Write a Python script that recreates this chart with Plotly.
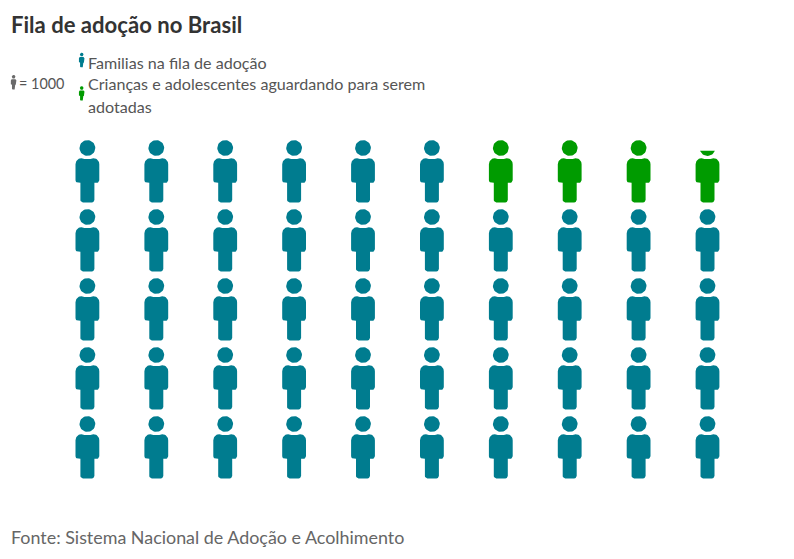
import math
import plotly.graph_objects as go

# Data (thousands; one icon = 1000)
title = "Fila de adoção no Brasil"
source = "Fonte: Sistema Nacional de Adoção e Acolhimento"
scale_label = "= 1000"
serie_familias = "Familias na fila de adoção"
serie_criancas = ["Crianças e adolescentes aguardando para serem", "adotadas"]
familias = 46
criancas = 3.83
n_cols = 10
n_rows = 5

TEAL = "#007C8F"
GREEN = "#009B00"
GREY = "#6A6A6A"
FONT = "Lato"
W, H = 794, 559
X0, DX = 87.4, 68.9     # pixel centre of first column, pitch
Y0, DY = 424.0, 69.0    # pixel head centre of the bottom row, pitch


def arc(cx, cy, r, a0, a1, n=10):
    return [(cx + r * math.cos(math.radians(a0 + (a1 - a0) * i / n)),
             cy + r * math.sin(math.radians(a0 + (a1 - a0) * i / n))) for i in range(n + 1)]


def person_parts():
    # outline in pixels; origin at head centre, y down
    head = arc(0, 0, 7.9, 0, 360, 40)
    top, arm, leg, hw, lw = 10.2, 34.8, 54.4, 11.9, 7.0
    body = []
    body += arc(-hw + 6, top + 6, 6, 180, 270)
    body += [(-3, top + 0.9), (3, top + 0.9)]
    body += arc(hw - 6, top + 6, 6, 270, 360)
    body += arc(hw - 2.5, arm - 2.5, 2.5, 0, 90, 5)
    body += [(lw, arm)]
    body += arc(lw - 2.5, leg - 2.5, 2.5, 0, 90, 5)
    body += arc(-lw + 2.5, leg - 2.5, 2.5, 90, 180, 5)
    body += [(-lw, arm)]
    body += arc(-hw + 2.5, arm - 2.5, 2.5, 90, 180, 5)
    return [head, body]


GLYPH_TOP, GLYPH_BOTTOM = -7.9, 54.4


def clip_top(poly, ymin):
    out = []
    for i, p in enumerate(poly):
        q = poly[(i + 1) % len(poly)]
        if p[1] >= ymin:
            out.append(p)
        if (p[1] >= ymin) != (q[1] >= ymin):
            t = (ymin - p[1]) / (q[1] - p[1])
            out.append((p[0] + t * (q[0] - p[0]), ymin))
    return out


def glyph(col, row, frac=1.0):
    ymin = GLYPH_BOTTOM - frac * (GLYPH_BOTTOM - GLYPH_TOP)
    xs, ys = [], []
    for part in person_parts():
        poly = clip_top(part, ymin)
        if not poly:
            continue
        poly = poly + [poly[0]]
        xs += [col + x / DX for x, _ in poly] + [None]
        ys += [row - y / DY for _, y in poly] + [None]
    return xs, ys


def small_glyph(px, py, k=0.232):
    # legend key: pixel position of head centre converted to axis units
    xs, ys = [], []
    for part in person_parts():
        poly = part + [part[0]]
        xs += [(px + k * x - X0) / DX for x, _ in poly] + [None]
        ys += [(Y0 - (py + k * y)) / DY for _, y in poly] + [None]
    return xs, ys


teal = ([], [])
green = ([], [])
total = familias + criancas
for i in range(n_rows * n_cols):
    if i >= total:
        break
    row, col = divmod(i, n_cols)
    frac = min(1.0, total - i)
    x, y = glyph(col, row, frac)
    target = teal if i < familias else green
    target[0].extend(x)
    target[1].extend(y)

fig = go.Figure()


def add(xy, color, name):
    fig.add_trace(go.Scatter(x=xy[0], y=xy[1], mode="lines", fill="toself", fillcolor=color,
                             line=dict(width=0, color=color), hoverinfo="skip", name=name,
                             showlegend=False))


add(teal, TEAL, "Familias")
add(green, GREEN, "Crianças")
add(small_glyph(13.6, 76.8), GREY, "escala")
add(small_glyph(81.7, 54.6), TEAL, "chave familias")
add(small_glyph(81.7, 88.0), GREEN, "chave crianças")


def px_x(p):
    return (p - X0) / DX


def px_y(p):
    return (Y0 - p) / DY


def text(x, y, s, size, color, bold=False):
    fig.add_annotation(xref="paper", yref="paper", x=x / W, y=1 - y / H, text=f"<b>{s}</b>" if bold else s,
                       showarrow=False, xanchor="left", yanchor="middle", align="left",
                       font=dict(family=FONT, size=size, color=color), borderpad=0, borderwidth=0)


text(11, 25, title, 22.1, "#333333", bold=True)
text(19, 84, scale_label, 14.4, "#555555")
text(88, 62, serie_familias, 16.1, "#555555")
text(88, 84, serie_criancas[0], 16.1, "#555555")
text(88, 106, serie_criancas[1], 16.1, "#555555")
text(11, 537, source, 17.9, "#666666")

fig.update_layout(
    width=W, height=H, autosize=False, margin=dict(l=0, r=0, t=0, b=0),
    paper_bgcolor="white", plot_bgcolor="white", showlegend=False,
    xaxis=dict(range=[px_x(0), px_x(W)], visible=False, fixedrange=True),
    yaxis=dict(range=[px_y(H), px_y(0)], visible=False, fixedrange=True),
)
fig.write_html("out.html", config=dict(displayModeBar=False),
               post_script="document.body.style.margin='0';document.body.style.overflow='hidden';")
